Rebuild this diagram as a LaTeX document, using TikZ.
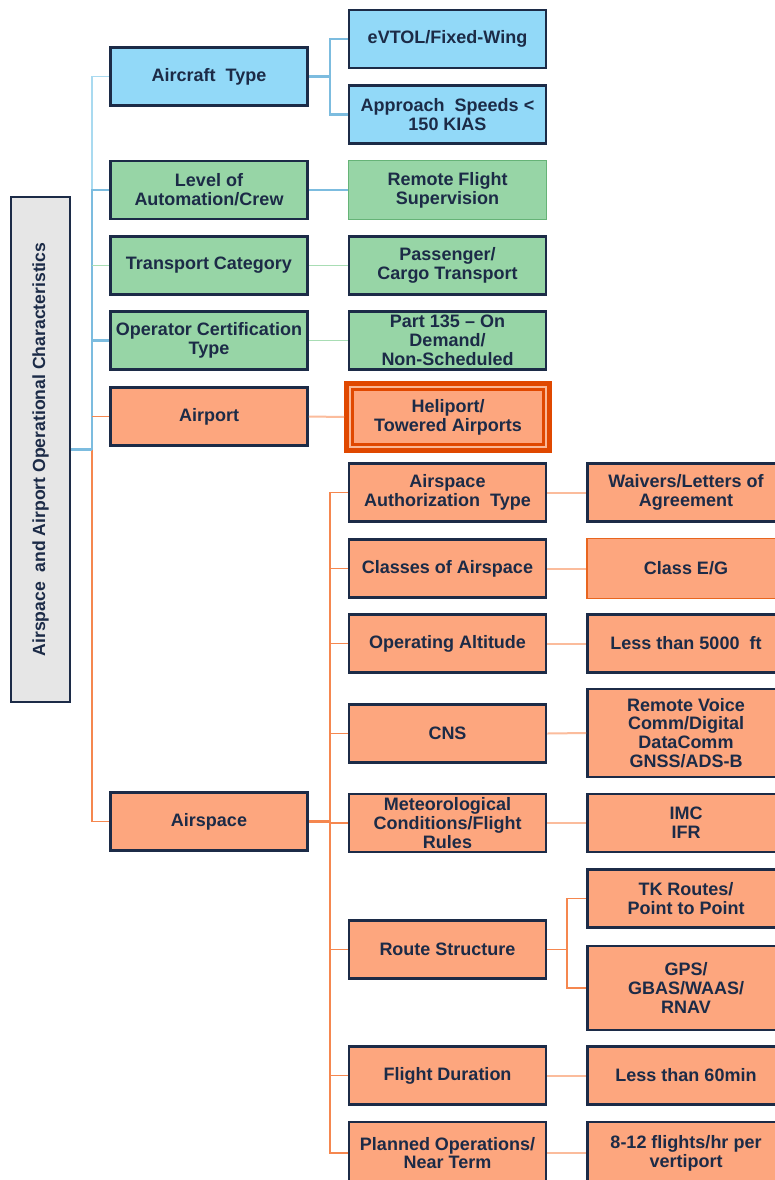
\documentclass[tikz,border=0pt]{standalone}
\usepackage{fontspec}
\setmainfont{Liberation Sans}
\usetikzlibrary{calc}
\definecolor{navy}{HTML}{1C2B47}
\definecolor{fblue}{HTML}{92D9F8}
\definecolor{fgreen}{HTML}{97D5A6}
\definecolor{forange}{HTML}{FDA67E}
\definecolor{fgray}{HTML}{E6E6E6}
\definecolor{hred}{HTML}{E04800}
\definecolor{lblueL}{HTML}{A9DAF0}
\definecolor{lblue}{HTML}{7CBCDF}
\definecolor{lgreen}{HTML}{A8DDB4}
\definecolor{ltrunk}{HTML}{F5874F}
\definecolor{lsalmon}{HTML}{FBBC9C}
\definecolor{gborder}{HTML}{66B377}
\definecolor{oborder}{HTML}{E8651F}
\definecolor{hinner}{HTML}{F9B896}
\tikzset{
  box/.style={draw=navy, line width=2.8pt, align=center, inner sep=0pt,
    minimum width=197pt, minimum height=58pt, text=navy,
    font=\fontsize{18}{18.8}\selectfont\bfseries},
  bluebox/.style={box, fill=fblue},
  greenbox/.style={box, fill=fgreen},
  orangebox/.style={box, fill=forange},
  lnLB/.style={draw=lblueL, line width=1.3pt},
  lnB/.style={draw=lblue, line width=2.2pt},
  lnBT/.style={draw=lblue, line width=3.5pt},
  lnG/.style={draw=lgreen, line width=1.6pt},
  lnO/.style={draw=ltrunk, line width=1.3pt},
  lnS/.style={draw=lsalmon, line width=2pt},
}
\begin{document}
\begin{tikzpicture}[x=1pt,y=-1pt]
\clip (0,0) rectangle (775,1180);
\fill[white] (0,0) rectangle (775,1180);

% root
\node[draw=navy, line width=2.8pt, fill=fgray, minimum width=59pt, minimum height=505pt, inner sep=0pt] (root) at (40.5,449.5) {};
\node[rotate=90, text=navy, font=\fontsize{17.6}{18.8}\selectfont\bfseries] (roottext) at (root.center) {Airspace\ \ and Airport Operational Characteristics};

% level 1
\node[bluebox] (aircraft) at (209,76.5) {Aircraft\ \ Type};
\node[greenbox] (level) at (209,190) {Level of\\Automation/Crew};
\node[greenbox] (transport) at (209,265.5) {Transport Category};
\node[greenbox] (operator) at (209,340.5) {Operator Certification\\Type};
\node[orangebox] (airport) at (209,416.5) {Airport};
\node[orangebox] (airspace) at (209,821.5) {Airspace};

% level 2
\node[bluebox] (evtol) at (447.5,39) {eVTOL/Fixed-Wing};
\node[bluebox] (approach) at (447.5,114.5) {Approach\ \ Speeds <\\150 KIAS};
\node[greenbox, draw=gborder, line width=1.5pt, minimum width=198pt, minimum height=59pt] (remote) at (447.5,190) {Remote Flight\\Supervision};
\node[greenbox] (passenger) at (447.5,265.5) {Passenger/\\Cargo Transport};
\node[greenbox] (part) at (447.5,340.5) {Part 135 -- On\\Demand/\\Non-Scheduled};
\node[orangebox, draw=hred, line width=10pt, minimum width=198pt, minimum height=62pt] (heliport) at (448,417) {Heliport/\\Towered Airports};
\draw[hinner, line width=1.2pt] ($(heliport.north west)+(6,6)$) rectangle ($(heliport.south east)+(-6,-6)$);
\node[orangebox] (auth) at (447.5,492.5) {Airspace\\Authorization\ \ Type};
\node[orangebox] (classes) at (447.5,568.5) {Classes of Airspace};
\node[orangebox] (altitude) at (447.5,643.5) {Operating Altitude};
\node[orangebox] (cns) at (447.5,733.5) {CNS};
\node[orangebox] (met) at (447.5,823) {Meteorological\\Conditions/Flight\\Rules};
\node[orangebox] (route) at (447.5,949.5) {Route Structure};
\node[orangebox] (duration) at (447.5,1075.5) {Flight Duration};
\node[orangebox, minimum height=62pt] (planned) at (447.5,1153) {Planned Operations/\\Near Term};

% level 3
\node[orangebox] (waivers) at (686,492.5) {Waivers/Letters of\\Agreement};
\node[orangebox, draw=oborder, line width=1.8pt, minimum width=198pt, minimum height=60pt] (classeg) at (686,568.5) {Class E/G};
\node[orangebox] (less5000) at (686,643.5) {Less than 5000\ \ ft};
\node[orangebox, minimum height=88pt] (voice) at (686,733) {Remote Voice\\Comm/Digital\\DataComm\\GNSS/ADS-B};
\node[orangebox] (imc) at (686,823) {IMC\\IFR};
\node[orangebox] (tk) at (686,898.5) {TK Routes/\\Point to Point};
\node[orangebox, minimum height=84pt] (gps) at (686,988) {GPS/\\GBAS/WAAS/\\RNAV};
\node[orangebox] (less60) at (686,1075.5) {Less than 60min};
\node[orangebox, minimum height=62pt] (flights) at (686,1153) {8-12 flights/hr per\\vertiport};

% trunk from root
\coordinate (t1) at (92,449.5);
\draw[lnLB] (t1) |- (aircraft.west);
\draw[lnO] (t1) |- (airspace.west);
\draw[lnB] (t1) |- (level.west);
\draw[lnG] (t1 |- transport.west) -- (transport.west);
\draw[lnB] (t1 |- operator.west) -- (operator.west);
\draw[lnO] (t1 |- airport.west) -- (airport.west);
\draw[lnBT] (root.east) -- (t1);

% aircraft children
\coordinate (a1) at (330,76.5);
\draw[lnB] (aircraft.east) -- (a1) |- (evtol.west);
\draw[lnB] (a1) |- (approach.west);
\draw[lnB] (level.east) -- (remote.west);
\draw[lnG] (transport.east) -- (passenger.west);
\draw[lnG] (operator.east) -- (part.west);
\draw[lnS] (airport.east) -- (heliport.west);

% airspace children
\coordinate (s1) at (330,821.5);
\draw[ltrunk, line width=2.5pt] (airspace.east) -- (s1);
\foreach \c in {auth,classes,altitude,cns,met,route,duration,planned}
  \draw[lnO] (s1) |- (\c.west);

% level 3 links
\draw[lnS] (auth.east) -- (waivers.west);
\draw[lnS] (classes.east) -- (classeg.west);
\draw[lnS] (altitude.east) -- (less5000.west);
\draw[lnS] (cns.east) -- (voice.west);
\draw[lnS] (met.east) -- (imc.west);
\draw[lnS] (duration.east) -- (less60.west);
\draw[lnS] (planned.east) -- (flights.west);
\coordinate (r1) at (567,949.5);
\draw[lnO] (route.east) -- (r1) |- (tk.west);
\draw[lnO] (r1) |- (gps.west);
\end{tikzpicture}
\end{document}
